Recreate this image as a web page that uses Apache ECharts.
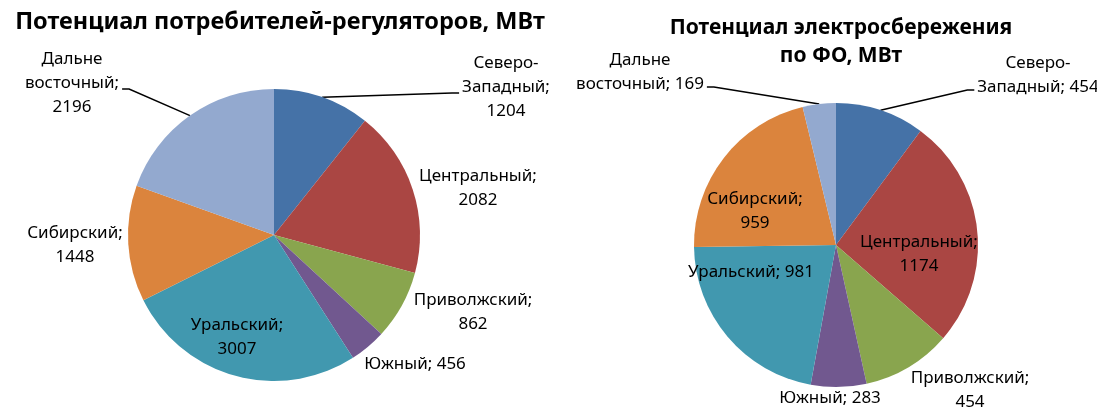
<!DOCTYPE html>
<html>
<head>
<meta charset="utf-8">
<script src="https://cdn.jsdelivr.net/npm/echarts@6/dist/echarts.min.js"></script>
<style>
  html, body { margin: 0; padding: 0; background: #fff; }
  #chart { width: 1097px; height: 407px; }
</style>
</head>
<body>
<div id="chart"></div>
<script>
// данные
var regions = ['Северо-Западный', 'Центральный', 'Приволжский', 'Южный', 'Уральский', 'Сибирский', 'Дальне восточный'];
var consumersMW = [1204, 2082, 862, 456, 3007, 1448, 2196];
var savingMW = [454, 1174, 454, 283, 981, 959, 169];

var colors = ['#4572A7', '#AA4643', '#89A54E', '#71588F', '#4198AF', '#DB843D', '#93A9CF'];
var font = '"Noto Sans", "Open Sans", sans-serif';

// раскладка подписей (центр блока подписи, px) и разрыв между именем и значением
var leftLabels = [[506, 87], [478, 188], [473, 312], [415, 364], [237, 337], [75, 245], [72, 83]];
var rightLabels = [[1038, 75], [919, 254], [970, 390], [830, 398], [751, 272], [755, 211], [640, 72]];
var leftBreak = ['\n', '\n', '\n', ' ', '\n', '\n', '\n'];
var rightBreak = [' ', '\n', '\n', ' ', ' ', '\n', ' '];
var withLine = [true, false, false, false, false, false, true];
// смещение точки крепления выноски от центра подписи по вертикали
var leftAttach = 6, rightAttach = 15;

function labelText(name, value, sep) {
    var n = name.replace('-', '-\n').replace('Дальне ', 'Дальне\n');
    return n + ';' + sep + value;
}

function makeData(values, breaks) {
    return regions.map(function (r, i) {
        return {
            name: r,
            value: values[i],
            label: { formatter: labelText(r, values[i], breaks[i]) },
            labelLine: { show: withLine[i] }
        };
    });
}

function pieSeries(values, breaks, pos, attach, center, radius) {
    return {
        type: 'pie',
        center: center,
        radius: radius,
        startAngle: 90,
        clockwise: true,
        avoidLabelOverlap: false,
        animation: false,
        itemStyle: { borderWidth: 0 },
        label: {
            show: true,
            position: 'outside',
            color: '#000',
            fontFamily: font,
            fontSize: 17,
            lineHeight: 24,
            align: 'center'
        },
        labelLine: {
            show: false,
            length: 10,
            length2: 10,
            lineStyle: { color: '#000', width: 1.5 }
        },
        labelLayout: function (p) {
            var xy = pos[p.dataIndex];
            var res = { x: xy[0], y: xy[1], align: 'center', verticalAlign: 'middle' };
            if (withLine[p.dataIndex] && p.labelLinePoints) {
                var start = p.labelLinePoints[0];
                var half = p.labelRect.width / 2 + 3;
                var side = start[0] > xy[0] ? 1 : -1;
                var end = [xy[0] + side * half, xy[1] + attach];
                res.labelLinePoints = [start, [end[0] + side * 7, end[1]], end];
            }
            return res;
        },
        data: makeData(values, breaks)
    };
}

var myChart = echarts.init(document.getElementById('chart'));

var option = {
    color: colors,
    title: [
        {
            text: 'Потенциал потребителей-регуляторов, МВт',
            left: 275, top: 5, textAlign: 'center',
            textStyle: { fontFamily: font, fontSize: 23.5, fontWeight: 'bold', color: '#000' }
        },
        {
            text: 'Потенциал электросбережения\nпо ФО, МВт',
            left: 836, top: 9, textAlign: 'center',
            textStyle: { fontFamily: font, fontSize: 21, fontWeight: 'bold', color: '#000', lineHeight: 28 }
        }
    ],
    series: [
        pieSeries(consumersMW, leftBreak, leftLabels, leftAttach, [274, 235], 146),
        pieSeries(savingMW, rightBreak, rightLabels, rightAttach, [836, 245], 142)
    ]
};

myChart.setOption(option);
</script>
</body>
</html>
